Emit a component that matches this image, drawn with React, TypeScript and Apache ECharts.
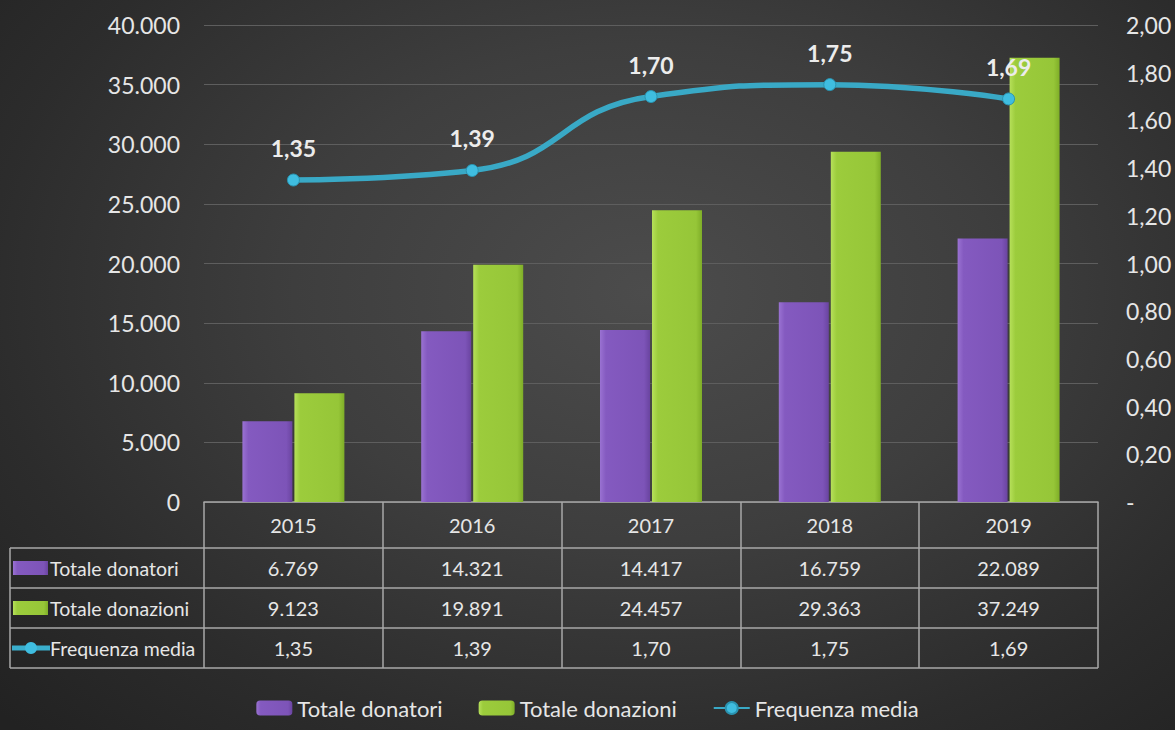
import React, { useEffect, useRef } from "react";
import * as echarts from "echarts";

const years = ["2015", "2016", "2017", "2018", "2019"];
const donatori = [6769, 14321, 14417, 16759, 22089];
const donazioni = [9123, 19891, 24457, 29363, 37249];
const frequenza = [1.35, 1.39, 1.7, 1.75, 1.69];
const seriesNames = ["Totale donatori", "Totale donazioni", "Frequenza media"];

const FONT = "Lato";
const TXT = "#e6e6e6";

const fmtInt = (v: number) => {
  const s = Math.round(v).toString();
  return s.replace(/\B(?=(\d{3})+(?!\d))/g, ".");
};
const fmtDec = (v: number) => v.toFixed(2).replace(".", ",");

const purpleGrad = () =>
  new echarts.graphic.LinearGradient(0, 0, 1, 0, [
    { offset: 0, color: "#9a72d2" },
    { offset: 0.12, color: "#845ac0" },
    { offset: 0.88, color: "#7d54b8" },
    { offset: 1, color: "#6a44a0" },
  ]);
const greenGrad = () =>
  new echarts.graphic.LinearGradient(0, 0, 1, 0, [
    { offset: 0, color: "#b6e05a" },
    { offset: 0.12, color: "#9ccc3c" },
    { offset: 0.88, color: "#96c638" },
    { offset: 1, color: "#7fae28" },
  ]);

export default function App() {
  const ref = useRef<HTMLDivElement>(null);
  useEffect(() => {
    document.body.style.margin = "0";
    const chart = echarts.init(ref.current!, null, { renderer: "svg" });
    const gl = 204, gr = 77, gt = 25, gb = 228;
    const W = 1175, H = 730;
    const plotRight = W - gr;
    const axisY = H - gb;
    const rowYs = [548, 588, 628, 668];
    const tableLeft = 10;
    const borderColor = "#a9a9a9";

    const graphics: any[] = [];
    rowYs.forEach((y) => {
      graphics.push({
        type: "line",
        shape: { x1: tableLeft, y1: y, x2: plotRight, y2: y },
        style: { stroke: borderColor, lineWidth: 1.5 },
        silent: true,
      });
    });
    graphics.push({
      type: "line",
      shape: { x1: tableLeft, y1: rowYs[0], x2: tableLeft, y2: rowYs[3] },
      style: { stroke: borderColor, lineWidth: 1.5 },
      silent: true,
    });
    const rowCenters = [568, 608, 648];
    graphics.push({
      type: "rect",
      shape: { x: 13, y: rowCenters[0] - 7, width: 35, height: 14 },
      style: { fill: purpleGrad() },
    });
    graphics.push({
      type: "rect",
      shape: { x: 13, y: rowCenters[1] - 7, width: 35, height: 14 },
      style: { fill: greenGrad() },
    });
    graphics.push({
      type: "line",
      shape: { x1: 12, y1: rowCenters[2], x2: 50, y2: rowCenters[2] },
      style: { stroke: "#3aaecc", lineWidth: 5 },
    });
    graphics.push({
      type: "circle",
      shape: { cx: 31, cy: rowCenters[2], r: 6 },
      style: { fill: "#3fbde0" },
    });
    seriesNames.forEach((n, i) => {
      graphics.push({
        type: "text",
        x: 50,
        y: rowCenters[i],
        style: {
          text: n,
          fill: TXT,
          fontSize: 19.5,
          fontFamily: FONT,
          verticalAlign: "middle",
          align: "left",
        },
      });
    });

    chart.setOption({
      animation: false,
      textStyle: { fontFamily: FONT },
      grid: { left: gl, right: gr, top: gt, bottom: gb, containLabel: false },
      legend: {
        bottom: 6,
        left: "center",
        itemGap: 36,
        itemWidth: 36,
        itemHeight: 15,
        textStyle: { color: TXT, fontSize: 22, fontFamily: FONT },
        data: seriesNames,
      },
      xAxis: {
        type: "category",
        data: years,
        boundaryGap: true,
        axisLine: { show: true, lineStyle: { color: borderColor, width: 1.5 } },
        axisTick: {
          show: true,
          length: rowYs[3] - axisY,
          lineStyle: { color: borderColor, width: 1.5 },
        },
        axisLabel: {
          margin: 0,
          interval: 0,
          formatter: (_v: string, i: number) =>
            `{h|${years[i]}}\n{v|${fmtInt(donatori[i])}}\n{v|${fmtInt(donazioni[i])}}\n{v|${fmtDec(frequenza[i])}}`,
          rich: {
            h: { fontSize: 20, lineHeight: 46, color: TXT, fontFamily: FONT },
            v: { fontSize: 20, lineHeight: 40, color: TXT, fontFamily: FONT },
          },
        },
      },
      yAxis: [
        {
          type: "value",
          min: 0,
          max: 40000,
          interval: 5000,
          axisLine: { show: false },
          axisTick: { show: false },
          splitLine: { lineStyle: { color: "#5e5e5e", width: 1.2 } },
          axisLabel: {
            color: TXT,
            fontSize: 23,
            fontFamily: FONT,
            margin: 24,
            formatter: (v: number) => fmtInt(v),
          },
        },
        {
          type: "value",
          min: 0,
          max: 2,
          interval: 0.2,
          axisLine: { show: false },
          axisTick: { show: false },
          splitLine: { show: false },
          axisLabel: {
            color: TXT,
            fontSize: 23,
            fontFamily: FONT,
            margin: 28,
            formatter: (v: number) => (v === 0 ? "-" : fmtDec(v)),
          },
        },
      ],
      series: [
        {
          name: seriesNames[0],
          type: "bar",
          data: donatori,
          barWidth: 50,
          barGap: "4%",
          itemStyle: { color: purpleGrad() },
        },
        {
          name: seriesNames[1],
          type: "bar",
          data: donazioni,
          barWidth: 50,
          itemStyle: { color: greenGrad() },
        },
        {
          name: seriesNames[2],
          type: "line",
          yAxisIndex: 1,
          data: frequenza,
          smooth: 0.5,
          symbol: "circle",
          symbolSize: 12,
          lineStyle: { color: "#39a9c6", width: 5.5 },
          itemStyle: { color: "#3fbde0", borderColor: "#2a93b0", borderWidth: 1 },
          label: {
            show: true,
            position: "top",
            distance: 14,
            color: "#ececec",
            fontSize: 23,
            fontWeight: "bold",
            fontFamily: FONT,
            formatter: (p: any) => fmtDec(p.value),
          },
          z: 5,
        },
      ],
      graphic: graphics,
    });
    return () => chart.dispose();
  }, []);
  return (
    <div
      ref={ref}
      style={{
        position: "absolute",
        left: 0,
        top: 0,
        width: 1175,
        height: 730,
        background:
          "radial-gradient(ellipse 75% 85% at 55% 40%, #4c4c4c 0%, #3e3e3e 40%, #2c2c2c 75%, #222222 100%)",
      }}
    />
  );
}
